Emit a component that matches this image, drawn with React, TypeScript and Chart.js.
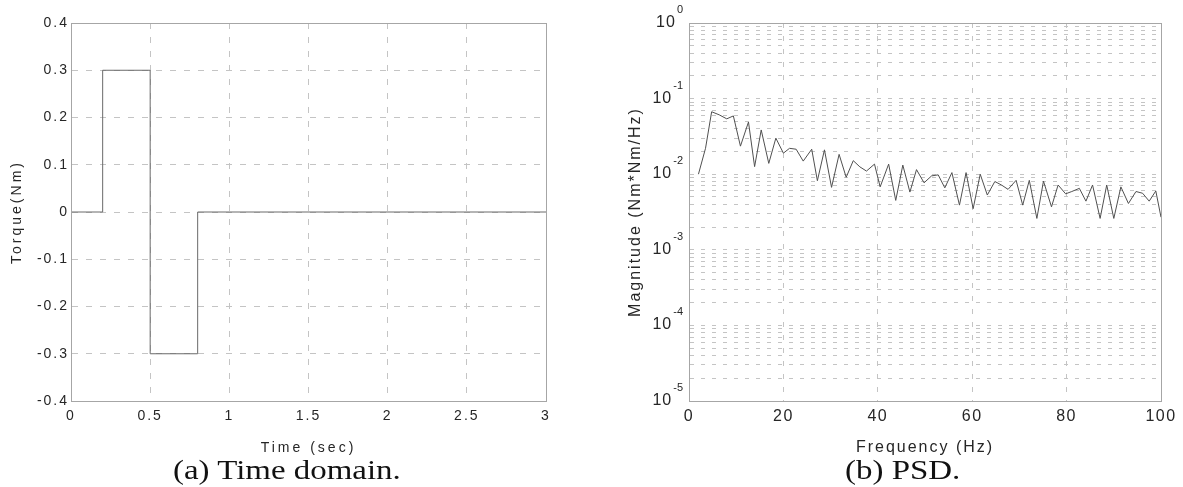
import React, { useEffect, useRef } from 'react';
import { Chart, registerables } from 'chart.js';

Chart.register(...registerables);

// ---------- (a) Time domain data ----------
const switchTimes = [0, 0.2, 0.5, 0.8, 3];
const torqueLevels = [0, 0.3, -0.3, 0, 0];
const timeTicks = [0, 0.5, 1, 1.5, 2, 2.5, 3];
const timeTickLabels = ['0', '0.5', '1', '1.5', '2', '2.5', '3'];
const torqueTicks = [-0.4, -0.3, -0.2, -0.1, 0, 0.1, 0.2, 0.3, 0.4];
const torqueTickLabels = ['-0.4', '-0.3', '-0.2', '-0.1', '0', '0.1', '0.2', '0.3', '0.4'];

// ---------- (b) PSD data ----------
const psdFreq = [
  2.0, 3.5, 4.8, 6.4, 8.0, 9.4, 10.9, 12.6, 13.9, 15.3, 16.9, 18.4,
  20.0, 21.3, 22.7, 24.2, 26.0, 27.2, 28.7, 30.2, 31.8, 33.3, 34.8, 36.2,
  37.6, 39.3, 40.5, 42.3, 43.8, 45.3, 46.8, 48.2, 49.8, 51.4, 52.8, 54.2,
  55.7, 57.3, 58.7, 60.2, 61.7, 63.2, 64.8, 66.2, 67.6, 69.3, 70.7, 72.1,
  73.7, 75.1, 76.8, 78.2, 79.8, 81.1, 82.7, 84.1, 85.5, 87.1, 88.5, 90.0,
  91.5, 93.1, 94.7, 96.1, 97.5, 98.9, 100,
];
const psdMag = [
  0.010, 0.022, 0.067, 0.061, 0.054, 0.059, 0.0235, 0.049, 0.0126, 0.0385, 0.0139, 0.030,
  0.019, 0.022, 0.0214, 0.0149, 0.0214, 0.0082, 0.021, 0.0067, 0.0183, 0.0091, 0.0151, 0.0125,
  0.011, 0.0136, 0.0068, 0.0136, 0.0045, 0.0132, 0.0058, 0.0115, 0.0077, 0.0095, 0.0098, 0.0066,
  0.0105, 0.0039, 0.0105, 0.0035, 0.0100, 0.0053, 0.0080, 0.0072, 0.0063, 0.0083, 0.0039, 0.0083,
  0.0026, 0.0081, 0.0037, 0.0072, 0.0055, 0.0059, 0.0065, 0.0044, 0.0072, 0.0026, 0.0072, 0.0026,
  0.0068, 0.0041, 0.0059, 0.0056, 0.0044, 0.0060, 0.0027,
];
const freqTicks = [0, 20, 40, 60, 80, 100];
const freqTickLabels = ['0', '20', '40', '60', '80', '100'];
const magDecades = [-5, -4, -3, -2, -1, 0];
const magMantissas = [1, 2, 3, 4, 5, 6, 7, 8, 9];

// ---------- styles ----------
const SANS = '"Liberation Sans", Arial, Helvetica, sans-serif';
const SERIF = '"Liberation Serif", "Times New Roman", serif';
const TXT = '#262626';
const GRID = '#c4c4c4';
const FRAME = '#a6a6a6';

const spacingPlugin = {
  id: 'spacing',
  beforeDraw(chart: any, _a: any, opts: any) {
    (chart.ctx as any).letterSpacing = opts.title || '0px';
  },
  afterDatasetsDraw(chart: any, _a: any, opts: any) {
    (chart.ctx as any).letterSpacing = opts.ticks || '0px';
  },
  afterDraw(chart: any, _a: any, opts: any) {
    const { left, top, right, bottom } = chart.chartArea;
    const ctx = chart.ctx;
    ctx.save();
    ctx.setLineDash([]);
    ctx.strokeStyle = opts.frame || FRAME;
    ctx.lineWidth = 1;
    ctx.strokeRect(Math.round(left) + 0.5, Math.round(top) + 0.5, Math.round(right - left), Math.round(bottom - top));
    ctx.restore();
    (ctx as any).letterSpacing = '0px';
  },
};

const logLabelPlugin = {
  id: 'logLabels',
  afterDraw(chart: any) {
    const s = chart.scales.y;
    const ctx = chart.ctx;
    const axisX = chart.chartArea.left;
    ctx.save();
    ctx.fillStyle = TXT;
    ctx.textBaseline = 'alphabetic';
    ctx.textAlign = 'right';
    for (const e of magDecades) {
      const y = s.getPixelForValue(Math.pow(10, e));
      const expText = String(e);
      (ctx as any).letterSpacing = '0px';
      ctx.font = `11px ${SANS}`;
      const expRight = axisX - 6;
      ctx.fillText(expText, expRight, y - 10);
      const w = ctx.measureText(expText).width;
      ctx.font = `16px ${SANS}`;
      (ctx as any).letterSpacing = '1px';
      ctx.fillText('10', expRight - w - 2 + 1, y + 4);
    }
    ctx.restore();
  },
};

function makeTimeConfig(): any {
  return {
    type: 'line',
    data: {
      datasets: [
        {
          data: switchTimes.map((t, i) => ({ x: t, y: torqueLevels[i] })),
          borderColor: '#6a6a6a',
          borderWidth: 1,
          pointRadius: 0,
          stepped: 'before',
          tension: 0,
        },
      ],
    },
    options: {
      animation: false,
      responsive: false,
      devicePixelRatio: 1,
      events: [],
      layout: { padding: { left: 9, right: 34, top: 23, bottom: 3 } },
      plugins: {
        legend: { display: false },
        tooltip: { enabled: false },
        spacing: { title: '3px', ticks: '2px', frame: FRAME },
      },
      scales: {
        x: {
          type: 'linear',
          min: 0,
          max: 3,
          afterBuildTicks: (s: any) => {
            s.ticks = timeTicks.map((v) => ({ value: v }));
          },
          afterFit: (s: any) => {
            s.height = 56;
          },
          ticks: {
            callback: (_v: any, i: number) => timeTickLabels[i],
            color: TXT,
            font: { size: 14, family: SANS },
            padding: 7,
            maxRotation: 0,
            autoSkip: false,
            z: 1,
          },
          grid: { color: GRID, lineWidth: 1, drawTicks: false },
          border: { color: FRAME, dash: [6, 8] },
          title: { display: true, text: 'Time (sec)', color: TXT, font: { size: 14, family: SANS }, padding: 0 },
        },
        y: {
          type: 'linear',
          min: -0.4,
          max: 0.4,
          afterBuildTicks: (s: any) => {
            s.ticks = torqueTicks.map((v) => ({ value: v }));
          },
          afterFit: (s: any) => {
            s.width = 62;
          },
          ticks: {
            callback: (_v: any, i: number) => torqueTickLabels[i],
            color: TXT,
            font: { size: 14, family: SANS },
            padding: 2,
            autoSkip: false,
            z: 1,
          },
          grid: { color: GRID, lineWidth: 1, drawTicks: false },
          border: { color: FRAME, dash: [6, 8] },
          title: { display: true, text: 'Torque(Nm)', color: TXT, font: { size: 14, family: SANS }, padding: 0 },
        },
      },
    },
    plugins: [spacingPlugin],
  };
}

function makePsdConfig(): any {
  return {
    type: 'line',
    data: {
      datasets: [
        {
          data: psdFreq.map((f, i) => ({ x: f, y: psdMag[i] })),
          borderColor: '#505050',
          borderWidth: 1,
          pointRadius: 0,
          tension: 0,
        },
      ],
    },
    options: {
      animation: false,
      responsive: false,
      devicePixelRatio: 1,
      events: [],
      layout: { padding: { left: 46, right: 22, top: 23, bottom: 3 } },
      plugins: {
        legend: { display: false },
        tooltip: { enabled: false },
        spacing: { title: '2px', ticks: '1.5px', frame: FRAME },
      },
      scales: {
        x: {
          type: 'linear',
          min: 0,
          max: 100,
          afterBuildTicks: (s: any) => {
            s.ticks = freqTicks.map((v) => ({ value: v }));
          },
          afterFit: (s: any) => {
            s.height = 56;
          },
          ticks: {
            callback: (_v: any, i: number) => freqTickLabels[i],
            color: TXT,
            font: { size: 16, family: SANS },
            padding: 6,
            maxRotation: 0,
            autoSkip: false,
            z: 1,
          },
          grid: { color: GRID, lineWidth: 1, drawTicks: false },
          border: { color: FRAME, dash: [5, 8] },
          title: { display: true, text: 'Frequency (Hz)', color: TXT, font: { size: 16, family: SANS }, padding: 0 },
        },
        y: {
          type: 'logarithmic',
          min: 1e-5,
          max: 1,
          afterBuildTicks: (s: any) => {
            const t: any[] = [];
            for (const e of magDecades) {
              for (const m of magMantissas) {
                const v = m * Math.pow(10, e);
                if (v <= 1.0000001) t.push({ value: v });
              }
            }
            s.ticks = t;
          },
          afterFit: (s: any) => {
            s.width = 63;
          },
          ticks: {
            callback: () => '',
            autoSkip: false,
            z: 1,
          },
          grid: { color: GRID, lineWidth: 1, drawTicks: false },
          border: { color: FRAME, dash: [4, 7] },
          title: {
            display: true,
            text: 'Magnitude (Nm*Nm/Hz)',
            color: TXT,
            font: { size: 16, family: SANS },
            padding: 0,
          },
        },
      },
    },
    plugins: [spacingPlugin, logLabelPlugin],
  };
}

function ChartCanvas(props: { make: () => any; left: number; width: number; height: number }) {
  const ref = useRef<HTMLCanvasElement | null>(null);
  useEffect(() => {
    if (!ref.current) return;
    const chart = new Chart(ref.current, props.make());
    return () => chart.destroy();
  }, []);
  return (
    <canvas
      ref={ref}
      width={props.width}
      height={props.height}
      style={{ position: 'absolute', left: props.left, top: 0, width: props.width, height: props.height, display: 'block' }}
    />
  );
}

const captionStyle: React.CSSProperties = {
  position: 'absolute',
  top: 457,
  fontFamily: SERIF,
  fontSize: 27,
  lineHeight: '27px',
  color: '#111',
  whiteSpace: 'nowrap',
  transform: 'scaleX(1.22)',
  transformOrigin: 'left top',
};

export default function App() {
  return (
    <div
      style={{
        position: 'fixed',
        left: 0,
        top: 0,
        width: 1183,
        height: 487,
        background: '#ffffff',
        overflow: 'hidden',
      }}
    >
      <ChartCanvas make={makeTimeConfig} left={0} width={580} height={460} />
      <ChartCanvas make={makePsdConfig} left={580} width={603} height={460} />
      <div style={{ ...captionStyle, left: 173 }}>(a) Time domain.</div>
      <div style={{ ...captionStyle, left: 845 }}>(b) PSD.</div>
    </div>
  );
}
